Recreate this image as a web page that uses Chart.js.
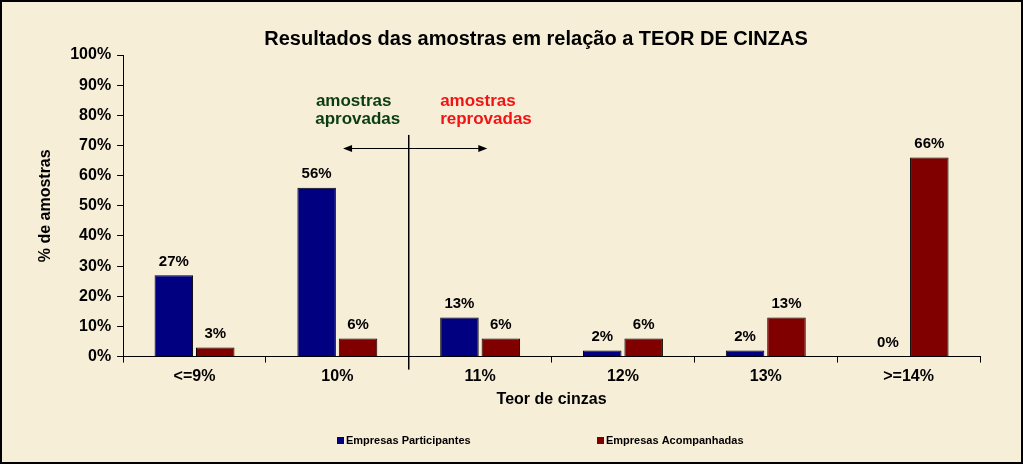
<!DOCTYPE html>
<html>
<head>
<meta charset="utf-8">
<script src="https://cdn.jsdelivr.net/npm/chart.js@4"></script>
<style>
  html, body { margin: 0; padding: 0; background: #f7eed8; }
  #wrap { width: 1023px; height: 464px; }
</style>
</head>
<body>
<div id="wrap"><canvas id="chart" width="1023" height="464"></canvas></div>
<script>
// dados
const categorias = ['<=9%', '10%', '11%', '12%', '13%', '>=14%'];
const participantes = [27, 56, 13, 2, 2, 0];
const acompanhadas = [3, 6, 6, 6, 13, 66];
const yTicks = [0, 10, 20, 30, 40, 50, 60, 70, 80, 90, 100];

const FONT = "'Liberation Sans', Arial, sans-serif";
const TITULO = 'Resultados das amostras em relação a TEOR DE CINZAS';

// fundo creme, moldura e título
const moldura = {
  id: 'moldura',
  beforeDraw(chart) {
    const { ctx, width, height } = chart;
    ctx.save();
    ctx.fillStyle = '#f7eed8';
    ctx.fillRect(0, 0, width, height);
    ctx.restore();
  },
  afterDraw(chart) {
    const { ctx, width, height } = chart;
    ctx.save();
    ctx.fillStyle = '#000';
    ctx.font = 'bold 20px ' + FONT;
    ctx.textAlign = 'center';
    ctx.textBaseline = 'middle';
    ctx.fillText(TITULO, 536, 39);
    ctx.strokeStyle = '#000';
    ctx.lineWidth = 2;
    ctx.strokeRect(1, 1, width - 2, height - 2);
    ctx.restore();
  }
};

// legenda embaixo
const legenda = {
  id: 'legenda',
  afterDraw(chart) {
    const { ctx } = chart;
    const xs = [337, 597];
    ctx.save();
    ctx.font = 'bold 11px ' + FONT;
    ctx.textBaseline = 'middle';
    chart.data.datasets.forEach((ds, i) => {
      ctx.fillStyle = ds.backgroundColor;
      ctx.fillRect(xs[i], 437, 7, 7);
      ctx.fillStyle = '#000';
      ctx.fillText(ds.label, xs[i] + 9, 441);
    });
    ctx.restore();
  }
};

// rótulos de valor acima das barras
const rotulos = {
  id: 'rotulos',
  afterDatasetsDraw(chart) {
    const { ctx } = chart;
    ctx.save();
    ctx.font = 'bold 15px ' + FONT;
    ctx.fillStyle = '#000';
    ctx.textAlign = 'center';
    ctx.textBaseline = 'bottom';
    chart.data.datasets.forEach((ds, i) => {
      chart.getDatasetMeta(i).data.forEach((bar, j) => {
        ctx.fillText(ds.data[j] + '%', bar.x, bar.y - 6);
      });
    });
    ctx.restore();
  }
};

// linha divisória, seta e textos aprovadas / reprovadas
const anotacoes = {
  id: 'anotacoes',
  afterDraw(chart) {
    const { ctx } = chart;
    const x = chart.scales.x, y = chart.scales.y;
    const px = v => x.getPixelForValue(v);
    const divisa = (px(1) + px(2)) / 2;
    ctx.save();
    ctx.strokeStyle = '#000';
    ctx.fillStyle = '#000';
    ctx.lineWidth = 1.5;
    ctx.beginPath();
    ctx.moveTo(divisa, y.getPixelForValue(73.5));
    ctx.lineTo(divisa, y.bottom + 13);
    ctx.stroke();

    const ay = Math.round(y.getPixelForValue(69)) + 0.5;
    const a0 = px(1.04), a1 = px(2.05);
    ctx.lineWidth = 1;
    ctx.beginPath();
    ctx.moveTo(a0 + 4, ay);
    ctx.lineTo(a1 - 4, ay);
    ctx.stroke();
    [[a0, 1], [a1, -1]].forEach(([ax, d]) => {
      ctx.beginPath();
      ctx.moveTo(ax, ay);
      ctx.lineTo(ax + 9 * d, ay - 3.5);
      ctx.lineTo(ax + 9 * d, ay + 3.5);
      ctx.closePath();
      ctx.fill();
    });

    ctx.font = 'bold 17px ' + FONT;
    ctx.textAlign = 'left';
    ctx.textBaseline = 'middle';
    ctx.fillStyle = '#0b3d12';
    ctx.fillText('amostras', px(0.85), y.getPixelForValue(84.7));
    ctx.fillText('aprovadas', px(0.845), y.getPixelForValue(78.7));
    ctx.fillStyle = '#f01414';
    ctx.fillText('amostras', px(1.72), y.getPixelForValue(84.7));
    ctx.fillText('reprovadas', px(1.72), y.getPixelForValue(78.7));
    ctx.restore();
  }
};

new Chart(document.getElementById('chart'), {
  type: 'bar',
  data: {
    labels: categorias,
    datasets: [{
      label: 'Empresas Participantes',
      data: participantes,
      backgroundColor: '#000080',
      borderColor: '#000',
      borderWidth: 1,
      categoryPercentage: 0.58,
      barPercentage: 0.93
    }, {
      label: 'Empresas Acompanhadas',
      data: acompanhadas,
      backgroundColor: '#800000',
      borderColor: '#000',
      borderWidth: 1,
      categoryPercentage: 0.58,
      barPercentage: 0.93
    }]
  },
  options: {
    responsive: false,
    animation: false,
    layout: { padding: { left: 31, right: 43, top: 55, bottom: 55 } },
    plugins: {
      title: { display: false },
      legend: { display: false },
      tooltip: { enabled: false }
    },
    scales: {
      x: {
        grid: { drawOnChartArea: false, color: '#000', tickLength: 6, tickColor: '#000' },
        border: { color: '#000', width: 1 },
        ticks: { color: '#000', font: { family: FONT, size: 16, weight: 'bold' }, padding: 4 },
        title: {
          display: true,
          text: 'Teor de cinzas',
          color: '#000',
          font: { family: FONT, size: 16, weight: 'bold' },
          padding: { top: 0, bottom: 0 }
        }
      },
      y: {
        min: 0,
        max: 100,
        afterBuildTicks: axis => { axis.ticks = yTicks.map(v => ({ value: v })); },
        grid: { drawOnChartArea: false, color: '#000', tickLength: 6, tickColor: '#000' },
        border: { color: '#000', width: 1 },
        ticks: {
          color: '#000',
          autoSkip: false,
          font: { family: FONT, size: 16, weight: 'bold' },
          padding: 6,
          callback: v => v + '%'
        },
        title: {
          display: true,
          text: '% de amostras',
          color: '#000',
          font: { family: FONT, size: 16, weight: 'bold' },
          padding: { top: 5, bottom: 9 }
        }
      }
    }
  },
  plugins: [moldura, legenda, rotulos, anotacoes]
});
</script>
</body>
</html>
